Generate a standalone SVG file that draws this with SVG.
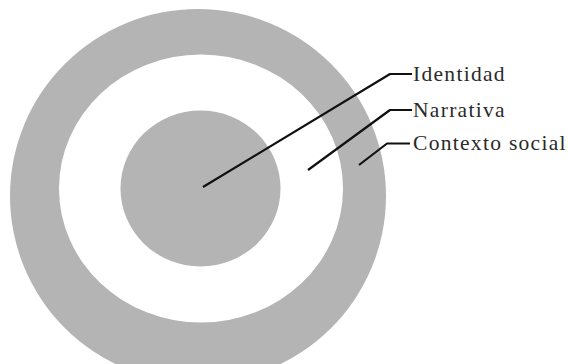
<svg xmlns="http://www.w3.org/2000/svg" width="568" height="364" viewBox="0 0 568 364">
<style>
.ring{fill:#b4b4b4}
.hole{fill:#ffffff}
.lead{fill:none;stroke:#111111;stroke-width:2.2;stroke-linejoin:round;stroke-linecap:butt}
.lbl{font-family:"Liberation Serif","DejaVu Serif",serif;font-size:21.5px;fill:#2a2a2a;letter-spacing:1.3px}
</style>
<rect width="568" height="364" fill="#ffffff"/>
<g id="contexto-social">
<ellipse class="ring" cx="198" cy="196" rx="188" ry="187"/>
</g>
<g id="narrativa">
<ellipse class="hole" cx="201" cy="188.5" rx="142" ry="134"/>
</g>
<g id="identidad">
<ellipse class="ring" cx="200.5" cy="188.5" rx="80" ry="78"/>
</g>
<g id="connectors">
<polyline class="lead" points="203,187 390,74 412,74"/>
<polyline class="lead" points="308,170 390,110 412,110"/>
<polyline class="lead" points="359,165 387,143.5 410,143.5"/>
</g>
<g id="labels">
<text class="lbl" x="413" y="81">Identidad</text>
<text class="lbl" x="413" y="117">Narrativa</text>
<text class="lbl" x="413" y="150">Contexto social</text>
</g>
</svg>
